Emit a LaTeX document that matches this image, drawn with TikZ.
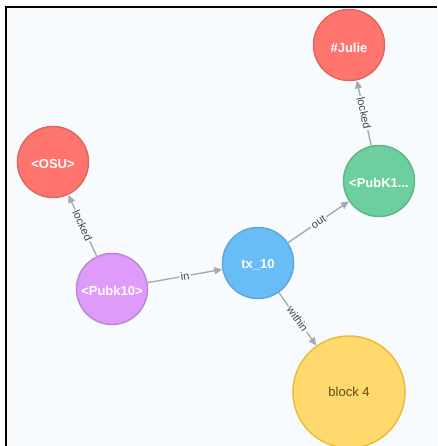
\documentclass[tikz,border=0pt]{standalone}
\usepackage{fontspec}
\setmainfont{Liberation Sans}
\usetikzlibrary{arrows.meta}
\definecolor{bg}{HTML}{F8FBFE}
\definecolor{redf}{HTML}{FF756E}
\definecolor{redd}{HTML}{E06760}
\definecolor{greenf}{HTML}{6DCE9E}
\definecolor{greend}{HTML}{60B58B}
\definecolor{bluef}{HTML}{68BDF6}
\definecolor{blued}{HTML}{5CA8DB}
\definecolor{purplef}{HTML}{DE9BF9}
\definecolor{purpled}{HTML}{BF85D6}
\definecolor{yellowf}{HTML}{FFD86E}
\definecolor{yellowd}{HTML}{EDBA39}
\definecolor{blocktext}{HTML}{604A0E}
\definecolor{edgec}{HTML}{A5ABB6}
\definecolor{labelc}{HTML}{444444}
\begin{document}
\begin{tikzpicture}[x=1pt,y=-1pt,
  gnode/.style={circle, line width=1.5pt, minimum size=71pt, inner sep=0pt},
  gtext/.style={inner sep=0pt, font=\fontsize{13}{15}\selectfont\bfseries, text=white},
  edge/.style={draw=edgec, line width=1.4pt, -{Triangle[length=8pt,width=7pt]}},
  elabel/.style={sloped, midway, fill=bg, inner sep=1.5pt, text=labelc, font=\fontsize{11}{13}\selectfont}]
\useasboundingbox (0,0) rectangle (437,446);
\fill[white] (0,0) rectangle (437,446);
\fill[bg] (6,7) rectangle (437,446);
\draw[line width=2pt] (6,446) -- (6,7) -- (437,7);

\node[gnode, fill=redf, draw=redd] (julie) at (349,45) {};
\node[gtext] (juliel) at ([yshift=-3pt]julie.center) {\#Julie};
\node[gnode, fill=redf, draw=redd] (osu) at (53,162) {};
\node[gtext] (osul) at ([yshift=-2pt]osu.center) {<OSU>};
\node[gnode, fill=greenf, draw=greend] (pubk1) at (379,181) {};
\node[gtext] (pubk1l) at ([yshift=-2pt]pubk1.center) {<PubK1...};
\node[gnode, fill=bluef, draw=blued] (tx) at (258,263) {};
\node[gtext] (txl) at ([yshift=-2pt]tx.center) {tx\_10};
\node[gnode, fill=purplef, draw=purpled] (pubk10) at (112,289) {};
\node[gtext] (pubk10l) at ([yshift=-2pt]pubk10.center) {<Pubk10>};
\node[gnode, fill=yellowf, draw=yellowd, minimum size=112pt] (block) at (349,392) {};
\node[gtext, text=blocktext, font=\fontsize{13}{15}\selectfont] (blockl) at (block.center) {block 4};

\draw[edge] (pubk10) -- node[elabel] {locked} (osu);
\draw[edge] (pubk10) -- node[elabel] {in} (tx);
\draw[edge] (tx) -- node[elabel] {out} (pubk1);
\draw[edge] (pubk1) -- node[elabel] {locked} (julie);
\draw[edge] (tx) -- node[elabel] {within} (block);
\end{tikzpicture}
\end{document}
